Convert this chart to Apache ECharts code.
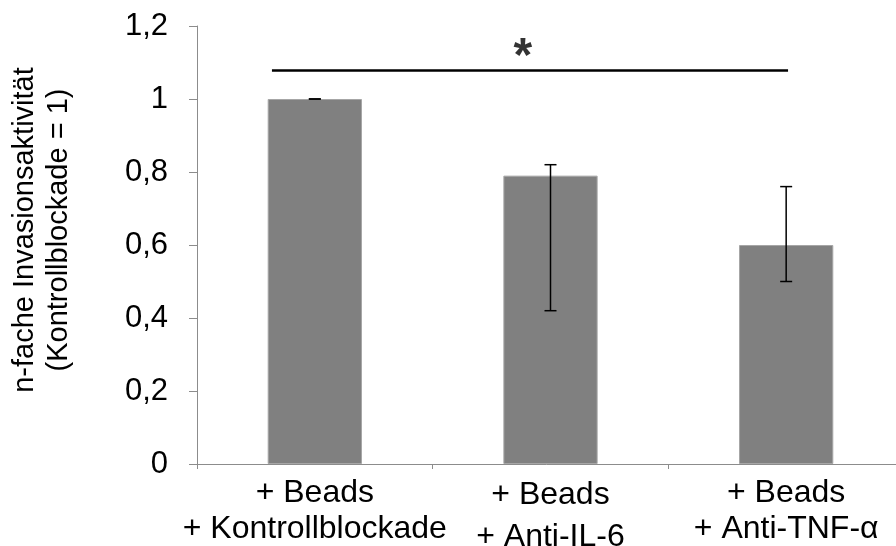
<!DOCTYPE html>
<html>
<head>
<meta charset="utf-8">
<script src="https://cdn.jsdelivr.net/npm/echarts@6/dist/echarts.min.js"></script>
<style>
html,body{margin:0;padding:0;background:#fff;}
#c{width:896px;height:546px;}
</style>
</head>
<body>
<div id="c"></div>
<script>
// ---- data ----
const categories = ['+ Beads\n+ Kontrollblockade', '+ Beads\n+ Anti-IL-6', '+ Beads\n+ Anti-TNF-α'];
const values = [1.0, 0.79, 0.60];
const errLow = [1.0, 0.42, 0.50];
const errHigh = [1.0, 0.82, 0.76];
const yMin = 0, yMax = 1.2, yStep = 0.2;
const yTitle = 'n-fache Invasionsaktivität\n(Kontrollblockade = 1)';
// significance bracket (x in category index units, y in value units)
const sigLine = [[-0.182, 1.078], [2.008, 1.078]];
const sigStar = [[0.883, 1.112]];
const sigText = '*';

const chart = echarts.init(document.getElementById('c'), null, {renderer: 'canvas'});
const FONT = '"Liberation Sans", Arial, sans-serif';

const errData = categories.map((c, i) => [i, errLow[i], errHigh[i]]);

chart.setOption({
  animation: false,
  backgroundColor: '#fff',
  grid: {left: 197, top: 26, bottom: 82, right: -8, outerBoundsMode: 'none', containLabel: false},
  xAxis: [{
    type: 'category',
    data: categories,
    axisLine: {onZero: false, lineStyle: {color: '#8c8c8c', width: 1}},
    axisTick: {show: true, length: 5, lineStyle: {color: '#8c8c8c'}},
    axisLabel: {
      fontFamily: FONT, fontSize: 32, color: '#000', lineHeight: 36, margin: 11, interval: 0,
      formatter: (v, i) => {
        if (i !== 1) return v;
        const parts = v.split('\n');
        return '{a|' + parts[0] + '}\n{b|' + parts[1] + '}';
      },
      rich: {
        a: {fontFamily: FONT, fontSize: 32, color: '#000', lineHeight: 40},
        b: {fontFamily: FONT, fontSize: 32, color: '#000', lineHeight: 44}
      }
    },
    splitLine: {show: false}
  }, {
    type: 'value', min: -0.5, max: 2.5, show: false
  }],
  yAxis: {
    type: 'value', min: yMin, max: yMax, interval: yStep,
    name: yTitle,
    nameLocation: 'middle',
    nameRotate: 90,
    nameGap: 121,
    nameTextStyle: {fontFamily: FONT, fontSize: 29, color: '#000', lineHeight: 34, padding: [0, 0, 0, 30]},
    axisLine: {show: true, onZero: false, lineStyle: {color: '#8c8c8c', width: 1}},
    axisTick: {show: true, inside: false, length: 8, lineStyle: {color: '#8c8c8c'}},
    axisLabel: {fontFamily: FONT, fontSize: 31, color: '#000', margin: 29,
      formatter: v => (Math.round(v * 10) / 10).toString().replace('.', ',')},
    splitLine: {show: false}
  },
  series: [{
    type: 'bar',
    data: values,
    barWidth: '40%',
    itemStyle: {color: '#808080', borderColor: '#a6a6a6', borderWidth: 1}
  }, {
    type: 'custom',
    xAxisIndex: 0,
    data: errData,
    z: 10,
    renderItem: function (params, api) {
      const lo = api.coord([api.value(0), api.value(1)]);
      const hi = api.coord([api.value(0), api.value(2)]);
      const hw = 6;
      const st = {stroke: '#000', lineWidth: 1.5};
      return {type: 'group', children: [
        {type: 'line', shape: {x1: hi[0], y1: hi[1], x2: lo[0], y2: lo[1]}, style: st},
        {type: 'line', shape: {x1: hi[0] - hw, y1: hi[1], x2: hi[0] + hw, y2: hi[1]}, style: st},
        {type: 'line', shape: {x1: lo[0] - hw, y1: lo[1], x2: lo[0] + hw, y2: lo[1]}, style: st}
      ]};
    }
  }, {
    type: 'line',
    xAxisIndex: 1,
    data: sigLine,
    symbol: 'none',
    lineStyle: {color: '#000', width: 2.5},
    z: 10
  }, {
    type: 'scatter',
    xAxisIndex: 1,
    data: sigStar,
    symbolSize: 1,
    itemStyle: {color: 'rgba(0,0,0,0)'},
    label: {show: true, position: 'inside', formatter: sigText, fontFamily: FONT,
      fontSize: 48, fontWeight: 'bold', color: '#000'},
    z: 10
  }]
});
</script>
</body>
</html>
